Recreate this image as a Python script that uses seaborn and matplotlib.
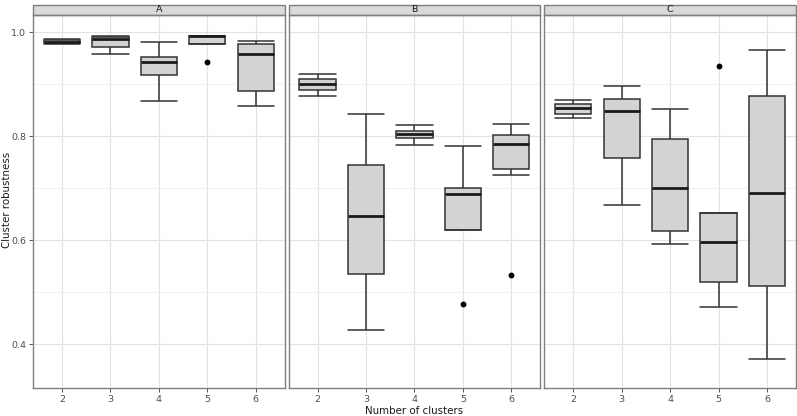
import matplotlib
matplotlib.use("Agg")
import matplotlib.pyplot as plt
import matplotlib.patches as mpatches
import pandas as pd
import seaborn as sns

sns.set_theme(style="white")
plt.rcParams['font.family'] = ['DejaVu Sans']

panels = ['A', 'B', 'C']
clusters = [2, 3, 4, 5, 6]

# box summaries, one list per panel:
# lower whisker, first quartile, median, third quartile, upper whisker
lower_a = [0.978, 0.958, 0.868, 0.9775, 0.859]
q1_a = [0.979, 0.971, 0.918, 0.9775, 0.887]
median_a = [0.982, 0.9865, 0.942, 0.993, 0.958]
q3_a = [0.986, 0.991, 0.953, 0.9935, 0.9775]
upper_a = [0.988, 0.992, 0.981, 0.9935, 0.9826]

lower_b = [0.878, 0.4275, 0.783, 0.620, 0.725]
q1_b = [0.889, 0.536, 0.796, 0.620, 0.738]
median_b = [0.900, 0.647, 0.804, 0.689, 0.785]
q3_b = [0.9096, 0.745, 0.811, 0.701, 0.803]
upper_b = [0.920, 0.8435, 0.822, 0.782, 0.824]

lower_c = [0.835, 0.667, 0.592, 0.472, 0.372]
q1_c = [0.8435, 0.758, 0.6185, 0.520, 0.512]
median_c = [0.854, 0.848, 0.7006, 0.596, 0.691]
q3_c = [0.8615, 0.872, 0.794, 0.653, 0.877]
upper_c = [0.870, 0.896, 0.8525, 0.653, 0.966]

# outlying points (panel, number of clusters, value)
outlier_panel = ['A', 'B', 'B', 'C']
outlier_cluster = [5, 5, 6, 5]
outlier_value = [0.9435, 0.477, 0.533, 0.935]

summaries = {
    'A': (lower_a, q1_a, median_a, q3_a, upper_a),
    'B': (lower_b, q1_b, median_b, q3_b, upper_b),
    'C': (lower_c, q1_c, median_c, q3_c, upper_c),
}

# nine observations per box reproduce the summary exactly with linear quantiles
rows = []
for panel in panels:
    lo, q1, med, q3, hi = summaries[panel]
    for i, k in enumerate(clusters):
        vals = [lo[i], lo[i], q1[i], q1[i], med[i], q3[i], q3[i], hi[i], hi[i]]
        for p, c, v in zip(outlier_panel, outlier_cluster, outlier_value):
            if p == panel and c == k:
                if v < lo[i]:
                    vals[0] = v
                else:
                    vals[-1] = v
        for v in vals:
            rows.append({'panel': panel, 'clusters': str(k), 'robustness': v})
df = pd.DataFrame(rows)

W, H = 797, 416
fig = plt.figure(figsize=(W / 100, H / 100), dpi=100)

border = '#7f7f7f'
grid_major = '#e3e3e3'
grid_minor = '#f1f1f1'
lefts = [33, 288.6, 544.3]
panel_w = 251.7
y_bottom, y_top = 387.7, 15
strip_h = 10

for idx, panel in enumerate(panels):
    ax = fig.add_axes([lefts[idx] / W, 1 - y_bottom / H, panel_w / W, (y_bottom - y_top) / H])
    sub = df[df['panel'] == panel]
    sns.boxplot(
        data=sub, x='clusters', y='robustness', order=[str(k) for k in clusters],
        color='#d3d3d3', saturation=1, width=0.75, linecolor='#333333', linewidth=1.1,
        capwidths=0.75,
        medianprops={'color': '#1a1a1a', 'linewidth': 2.0},
        flierprops={'marker': 'o', 'markerfacecolor': 'black', 'markeredgecolor': 'black',
                    'markersize': 3.2},
        ax=ax,
    )
    ax.set_xlim(-0.6, 4.6)
    ax.set_ylim(0.3165, 1.0333)
    ax.set_yticks([0.4, 0.6, 0.8, 1.0])
    ax.set_yticks([0.5, 0.7, 0.9], minor=True)
    ax.set_axisbelow(True)
    ax.grid(True, which='major', color=grid_major, linewidth=0.9)
    ax.grid(True, which='minor', axis='y', color=grid_minor, linewidth=0.7)
    ax.set_xlabel('')
    ax.set_ylabel('')
    ax.tick_params(axis='both', which='major', direction='out', length=3, width=0.7,
                   color='#555555', labelsize=6.8, labelcolor='#4d4d4d', pad=2)
    ax.tick_params(axis='y', which='minor', length=0)
    ax.tick_params(bottom=True, left=(idx == 0))
    if idx == 0:
        ax.set_yticklabels(['0.4', '0.6', '0.8', '1.0'])
    else:
        ax.set_yticklabels([])
    for s in ax.spines.values():
        s.set_color(border)
        s.set_linewidth(1.0)
    strip = mpatches.Rectangle((0, 1), 1, strip_h / (y_bottom - y_top), transform=ax.transAxes,
                               facecolor='#d9d9d9', edgecolor=border, linewidth=1.0, clip_on=False)
    ax.add_patch(strip)
    ax.text(0.5, 1 + strip_h / 2 / (y_bottom - y_top), panel, transform=ax.transAxes,
            ha='center', va='center', fontsize=6.8, color='#1a1a1a')

fig.text(414.5 / W, 1 - 411 / H, 'Number of clusters', ha='center', va='center',
         fontsize=7.4, color='#1a1a1a')
fig.text(7.5 / W, 1 - 200 / H, 'Cluster robustness', ha='center', va='center',
         rotation=90, fontsize=7.4, color='#1a1a1a')

fig.savefig('out.png', dpi=100)
